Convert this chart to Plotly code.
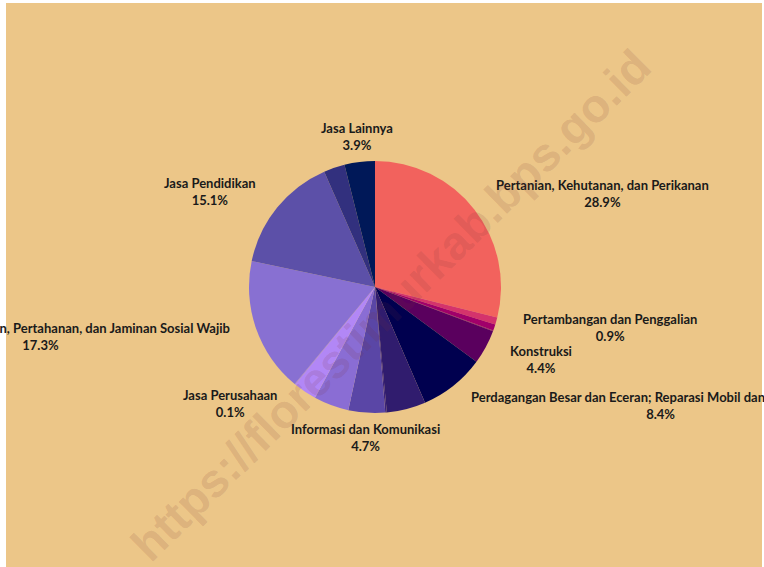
import math
import plotly.graph_objects as go

# ---- data ----
sectors = [
    "Pertanian, Kehutanan, dan Perikanan",
    "Pertambangan dan Penggalian",
    "Industri Pengolahan",
    "Pengadaan Listrik dan Gas",
    "Pengadaan Air, Pengelolaan Sampah, Limbah dan Daur Ulang",
    "Konstruksi",
    "Perdagangan Besar dan Eceran; Reparasi Mobil dan Sepeda Motor",
    "Transportasi dan Pergudangan",
    "Penyediaan Akomodasi dan Makan Minum",
    "Informasi dan Komunikasi",
    "Jasa Keuangan dan Asuransi",
    "Real Estate",
    "Jasa Perusahaan",
    "Administrasi Pemerintahan, Pertahanan, dan Jaminan Sosial Wajib",
    "Jasa Pendidikan",
    "Jasa Kesehatan dan Kegiatan Sosial",
    "Jasa Lainnya",
]
shares = [28.9, 0.9, 0.8, 0.03, 0.07, 4.4, 8.4, 5.0, 0.2, 4.7, 4.5, 3.0, 0.1, 17.3, 15.1, 2.7, 3.9]
show_label = [True, True, False, False, False, True, True, False, False, True, False, False, True, True, True, False, True]
colors = ["#F2625D", "#D4336C", "#A0006A", "#8A0066", "#780062", "#5A005E", "#00004F",
          "#301C6E", "#3A2478", "#5A46A6", "#8A6DD4", "#B287F6", "#A07EEA", "#8870D2",
          "#5C50A8", "#32307E", "#001858"]

W, H = 764, 567
CX, CY, RAD = 375, 287, 126
LABEL_R = RAD * 1.2

fig = go.Figure()
fig.add_trace(go.Pie(
    labels=sectors, values=shares, sort=False, direction="clockwise", rotation=0,
    marker=dict(colors=colors, line=dict(width=0)),
    textinfo="none", hoverinfo="label+percent", showlegend=False,
    domain=dict(x=[(CX - RAD) / W, (CX + RAD) / W],
                y=[(H - CY - RAD) / H, (H - CY + RAD) / H]),
))

total = sum(shares)
annotations = []
cum = 0.0
for name, v, show in zip(sectors, shares, show_label):
    mid = (cum + v / 2) / total * 2 * math.pi
    cum += v
    if not show:
        continue
    s, c = math.sin(mid), math.cos(mid)
    px = CX + LABEL_R * s
    py = CY - LABEL_R * c
    if abs(s) < 0.35:
        xa = "center"
    elif s > 0:
        xa = "left"
    else:
        xa = "right"
    annotations.append(dict(
        x=px / W, y=1 - py / H, xref="paper", yref="paper",
        xanchor=xa, yanchor="middle", showarrow=False, align="center",
        text=f"{name}<br>{v / total * 100:.1f}%",
        font=dict(family="Lato", size=13, color="#1a1a1a", weight=700),
    ))

# watermark
annotations.append(dict(
    x=390 / W, y=1 - 305 / H, xref="paper", yref="paper",
    xanchor="center", yanchor="middle", showarrow=False, textangle=-44.5,
    text="https://florestimurkab.bps.go.id",
    font=dict(family="Liberation Sans", size=47, color="rgba(120,50,55,0.15)", weight="bold"),
))

fig.update_layout(
    width=W, height=H,
    paper_bgcolor="white", plot_bgcolor="rgba(0,0,0,0)",
    margin=dict(l=0, r=0, t=0, b=0),
    annotations=annotations,
    shapes=[dict(type="rect", xref="paper", yref="paper", x0=6 / W, x1=762 / W,
                 y0=0, y1=1 - 3 / H, fillcolor="#ECC688", line=dict(width=0), layer="below")],
)

fig.write_html("out.html", config={"displayModeBar": False},
               post_script="document.body.style.margin='0';")
